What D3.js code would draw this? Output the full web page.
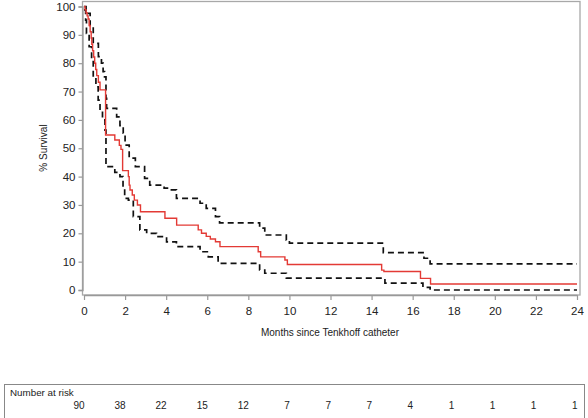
<!DOCTYPE html>
<html><head><meta charset="utf-8">
<script src="https://cdn.jsdelivr.net/npm/d3@7"></script>
<style>body{margin:0;background:#fff}svg{display:block;font-family:"Liberation Sans",Arial,sans-serif}</style>
</head><body><svg id="c" width="588" height="418"></svg>
<script>
// Kaplan-Meier estimate [months, % survival]
const kmTimes = [0,0.05,0.1,0.15,0.2,0.25,0.3,0.35,0.38,0.42,0.47,0.52,0.57,0.62,0.7,0.78,1.05,1.5,1.72,1.8,1.88,2.16,2.2,2.24,2.35,2.45,2.6,2.75,3.21,3.94,4.51,5.56,5.72,5.95,6.15,6.4,6.62,8.48,8.6,9.78,9.9,14.49,14.6,16.38,16.87,24];
const kmSurv  = [100,98.9,97.8,96.7,95.6,93.3,91.1,88.9,86.7,84.4,82.2,80.0,77.8,75.6,73.3,70.6,54.7,52.9,51.0,49.6,42.1,40.0,37.0,35.3,33.5,31.7,30.0,27.6,27.6,25.3,22.9,21.2,20.0,18.9,18.0,17.0,15.3,13.5,11.7,10.6,9.0,7.0,6.5,4.1,2.1,2.1];
// Upper 95% confidence limit
const upTimes = [0,0.1,0.3,0.45,0.7,0.85,0.93,1.0,1.07,1.1,1.59,1.75,1.91,2.0,2.2,2.5,2.95,3.2,3.9,4.13,4.5,5.65,5.95,6.4,6.6,8.55,8.8,9.85,10.0,14.57,16.55,16.85,24];
const upSurv  = [100,97.6,92.9,87.0,82.3,80.0,77.0,75.2,67.6,64.1,61.1,58.0,55.3,51.1,46.5,43.5,39.4,37.0,35.9,35.3,32.3,30.6,28.8,25.9,23.7,21.8,19.4,17.6,16.5,13.2,11.2,9.2,9.2];
// Lower 95% confidence limit
const loTimes = [0,0.08,0.12,0.25,0.37,0.45,0.58,0.69,0.78,0.9,1.02,1.07,1.5,1.75,1.9,1.98,2.16,2.4,2.72,3.05,3.53,4.02,4.5,5.65,6.05,6.53,8.55,8.8,9.85,14.65,16.5,16.85,24];
const loSurv  = [98.8,95.2,90.5,85.8,81.1,75.2,71.7,67.0,63.5,60.0,56.4,43.5,41.5,40.0,36.0,32.3,31.7,25.9,21.2,20.0,18.8,17.0,15.3,13.5,11.7,9.4,7.05,5.9,4.2,2.4,0.95,0,0];
// Number at risk
const riskTimes = [0,2,4,6,8,10,12,14,16,18,20,22,24];
const riskCounts = [90,38,22,15,12,7,7,7,4,1,1,1,1];
const xTicks = [0,2,4,6,8,10,12,14,16,18,20,22,24];
const yTicks = [0,10,20,30,40,50,60,70,80,90,100];

const svg = d3.select("#c");
const x = d3.scaleLinear().domain([0,24]).range([84,577]);
const y = d3.scaleLinear().domain([0,100]).range([290,6.5]);

// frame
svg.append("rect").attr("x",82.5).attr("y",1.5).attr("width",497.5).attr("height",293.5)
  .attr("fill","none").attr("stroke","#a8a8a8").attr("stroke-width",1.3);

// y axis
const ya = svg.append("g").attr("transform","translate(82.5,0)")
  .call(d3.axisLeft(y).tickValues(yTicks).tickSize(4).tickPadding(3));
ya.select(".domain").attr("stroke","#999").attr("stroke-width",1.3);
ya.selectAll(".tick line").attr("stroke","#999").attr("stroke-width",1.2);
ya.selectAll("text").attr("font-size",11.5).attr("fill","#222");

// x axis
const xa = svg.append("g").attr("transform","translate(0,295)")
  .call(d3.axisBottom(x).tickValues(xTicks).tickSize(5).tickPadding(7).tickSizeOuter(0));
xa.select(".domain").attr("stroke","#999").attr("stroke-width",1.3);
xa.selectAll(".tick line").attr("stroke","#999").attr("stroke-width",1.2);
xa.selectAll("text").attr("font-size",11.5).attr("fill","#222");

// labels
svg.append("text").attr("x",330).attr("y",336).attr("text-anchor","middle")
  .attr("font-size",10).attr("fill","#222").text("Months since Tenkhoff catheter");
svg.append("text").attr("transform","translate(47,148) rotate(-90)").attr("text-anchor","middle")
  .attr("font-size",10).attr("fill","#222").text("% Survival");

const line = d3.line().x(d=>x(d[0])).y(d=>y(d[1])).curve(d3.curveStepAfter);
const zip = (a,b)=>a.map((t,i)=>[t,b[i]]);

svg.append("path").datum(zip(upTimes,upSurv)).attr("d",line).attr("fill","none")
  .attr("stroke","#111").attr("stroke-width",1.7).attr("stroke-dasharray","6,4");
svg.append("path").datum(zip(loTimes,loSurv)).attr("d",line).attr("fill","none")
  .attr("stroke","#111").attr("stroke-width",1.7).attr("stroke-dasharray","6,4");
svg.append("path").datum(zip(kmTimes,kmSurv)).attr("d",line).attr("fill","none")
  .attr("stroke","#e33a35").attr("stroke-width",1.4);

// number at risk table
svg.append("rect").attr("x",4.5).attr("y",384.5).attr("width",580).attr("height",40)
  .attr("fill","none").attr("stroke","#888").attr("stroke-width",1);
svg.append("text").attr("x",10).attr("y",396).attr("font-size",9.8).attr("fill","#222").text("Number at risk");
svg.selectAll("text.risk").data(riskCounts).join("text").attr("class","risk")
  .attr("x",(d,i)=>x(riskTimes[i])+0.5).attr("y",409).attr("text-anchor","end")
  .attr("font-size",10).attr("fill","#222").text(d=>d);
</script></body></html>
